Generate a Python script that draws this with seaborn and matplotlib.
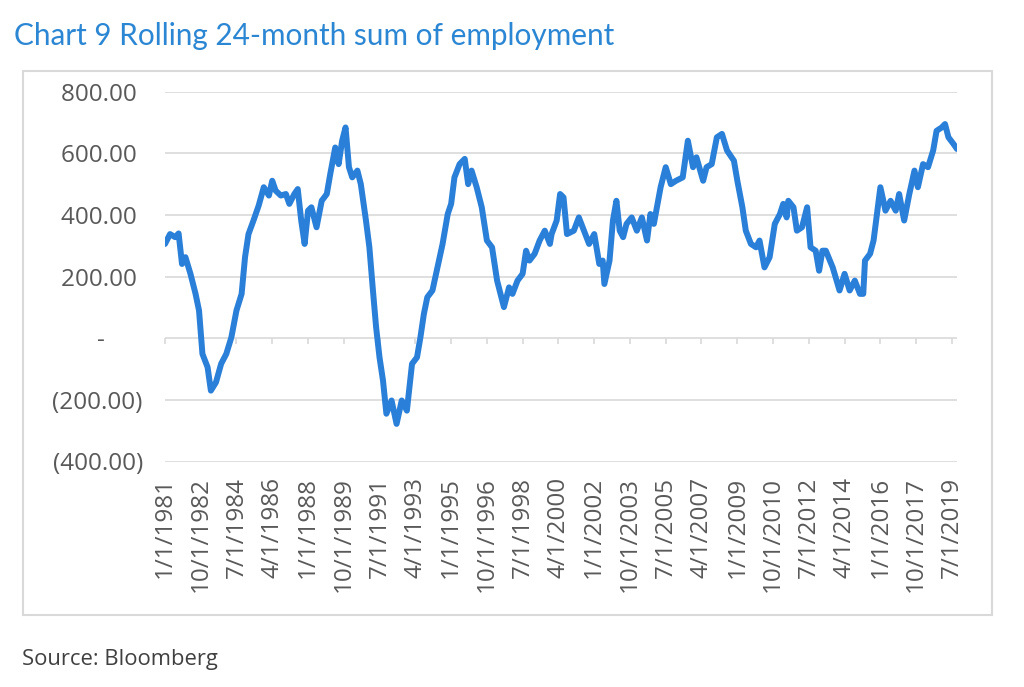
import numpy as np
import pandas as pd
import matplotlib
matplotlib.use("Agg")
import matplotlib.pyplot as plt
import seaborn as sns
from matplotlib.patches import Rectangle

# ---- data (months since Jan 1981) ----
base_month = "1981-01-01"
month_offset = [
    0, 3, 6, 8, 10, 12, 15, 18, 20, 22, 25, 27, 30, 33, 36, 39, 42, 45, 47, 49,
    52, 55, 58, 61, 63, 65, 68, 71, 73, 76, 78, 80, 82, 84, 86, 89, 92, 95, 97, 100,
    102, 104, 106, 108, 110, 113, 115, 118, 120, 122, 124, 126, 128, 130, 133, 136, 139, 142, 145, 148,
    150, 152, 154, 157, 160, 163, 166, 168, 170, 173, 176, 178, 180, 183, 186, 189, 192, 195, 197, 199,
    202, 204, 207, 210, 212, 214, 217, 220, 223, 226, 227, 230, 232, 234, 236, 240, 243, 246, 249, 252,
    255, 257, 258, 261, 263, 265, 267, 269, 271, 274, 277, 280, 283, 285, 287, 291, 294, 297, 300, 304,
    307, 310, 312, 316, 318, 321, 324, 327, 330, 334, 336, 339, 341, 344, 347, 349, 352, 355, 358, 361,
    363, 365, 366, 369, 371, 374, 377, 379, 382, 384, 386, 388, 392, 396, 399, 402, 405, 408, 410, 411,
    414, 416, 418, 420, 423, 426, 429, 431, 434, 437, 440, 442, 445, 448, 451, 453, 456, 458, 460, 463,
    465,
]
employment_sum = [
    306, 338, 328, 340, 241, 263, 209, 144, 90, -51, -94, -170, -143, -83, -51, 3, 90, 144, 263, 338,
    382, 430, 490, 463, 511, 479, 463, 468, 436, 468, 484, 382, 306, 414, 425, 360, 446, 468, 533, 619,
    565, 641, 684, 555, 522, 544, 500, 382, 295, 165, 36, -62, -137, -245, -202, -278, -202, -235, -83, -62,
    3, 79, 133, 155, 230, 306, 403, 436, 522, 565, 582, 500, 544, 490, 425, 317, 295, 187, 144, 101,
    165, 144, 187, 209, 284, 252, 274, 317, 349, 306, 338, 382, 468, 457, 338, 349, 392, 349, 306, 338,
    241, 252, 176, 252, 382, 446, 349, 328, 371, 392, 349, 392, 317, 403, 371, 490, 555, 500, 511, 522,
    641, 555, 587, 511, 555, 565, 652, 663, 609, 576, 511, 425, 349, 306, 295, 317, 230, 263, 371, 403,
    436, 392, 446, 425, 349, 360, 425, 295, 284, 219, 284, 284, 230, 155, 209, 155, 187, 144, 144, 252,
    274, 317, 403, 490, 414, 446, 414, 468, 382, 468, 544, 490, 565, 555, 609, 673, 684, 695, 652, 630,
    614,
]
y_ticks = [800, 600, 400, 200, 0, -200, -400]
y_tick_labels = ["800.00 ", "600.00 ", "400.00 ", "200.00 ", "-      ", "(200.00)", "(400.00)"]
x_tick_dates = ["1981-01-01", "1982-10-01", "1984-07-01", "1986-04-01", "1988-01-01", "1989-10-01",
                "1991-07-01", "1993-04-01", "1995-01-01", "1996-10-01", "1998-07-01", "2000-04-01",
                "2002-01-01", "2003-10-01", "2005-07-01", "2007-04-01", "2009-01-01", "2010-10-01",
                "2012-07-01", "2014-04-01", "2016-01-01", "2017-10-01", "2019-07-01"]
title_text = "Chart 9 Rolling 24-month sum of employment"
source_text = "Source: Bloomberg"

dates = [pd.Timestamp(base_month) + pd.DateOffset(months=m) for m in month_offset]
df = pd.DataFrame({"date": dates, "value": employment_sum})

sns.set_style("white")
plt.rcParams["font.family"] = ["Open Sans", "DejaVu Sans"]

W, H = 1024, 687
fig = plt.figure(figsize=(W / 100, H / 100), dpi=100)
ax = fig.add_axes([165 / W, 1 - 461.5 / H, (957 - 165) / W, (461.5 - 91.7) / H])

line_color = "#2a7fd8"
grid_color = "#d9d9d9"
text_color = "#595959"

sns.lineplot(data=df, x="date", y="value", ax=ax, color=line_color, linewidth=4.3,
             solid_joinstyle="round", solid_capstyle="round", zorder=3)

ax.set_xlim(df["date"].iloc[0], df["date"].iloc[-1])
ax.set_ylim(-400, 800)
ax.set_yticks(y_ticks)
ax.set_yticklabels(y_tick_labels)
ax.yaxis.grid(True, color=grid_color, linewidth=1.2)
ax.xaxis.grid(False)
for s in ax.spines.values():
    s.set_visible(False)

xt = pd.to_datetime(x_tick_dates)
ax.set_xticks(xt)
ax.set_xticklabels([f"{d.month}/{d.day}/{d.year}" for d in xt], rotation=90)
ax.tick_params(axis="x", length=0, pad=11, labelsize=17.5, labelcolor=text_color)
ax.tick_params(axis="y", length=0, pad=16, labelsize=17.5, labelcolor=text_color)
for lbl in ax.get_yticklabels():
    lbl.set_horizontalalignment("right")
ax.set_xlabel("")
ax.set_ylabel("")

# tick marks on the zero line
sec = ax.secondary_xaxis(1 / 3)
sec.set_xticks(xt)
sec.tick_params(axis="x", direction="out", length=4, width=1.2, color=grid_color,
                labelbottom=False, labeltop=False)
sec.xaxis.set_ticks_position("bottom")
sec.tick_params(labelbottom=False)
for s in sec.spines.values():
    s.set_visible(False)

# outer box
fig.patches.append(Rectangle((23 / W, 1 - 615 / H), (992 - 23) / W, (615 - 70.5) / H,
                             transform=fig.transFigure, fill=False, edgecolor=grid_color,
                             linewidth=1.5))

fig.text(14 / W, 1 - 45 / H, title_text, color="#2b86d3", fontsize=21.4,
         family=["Lato", "DejaVu Sans"], ha="left", va="baseline")
fig.text(22 / W, 1 - 665 / H, source_text, color="#404040", fontsize=15.8,
         ha="left", va="baseline")

fig.savefig("out.png", dpi=100, facecolor="white")
